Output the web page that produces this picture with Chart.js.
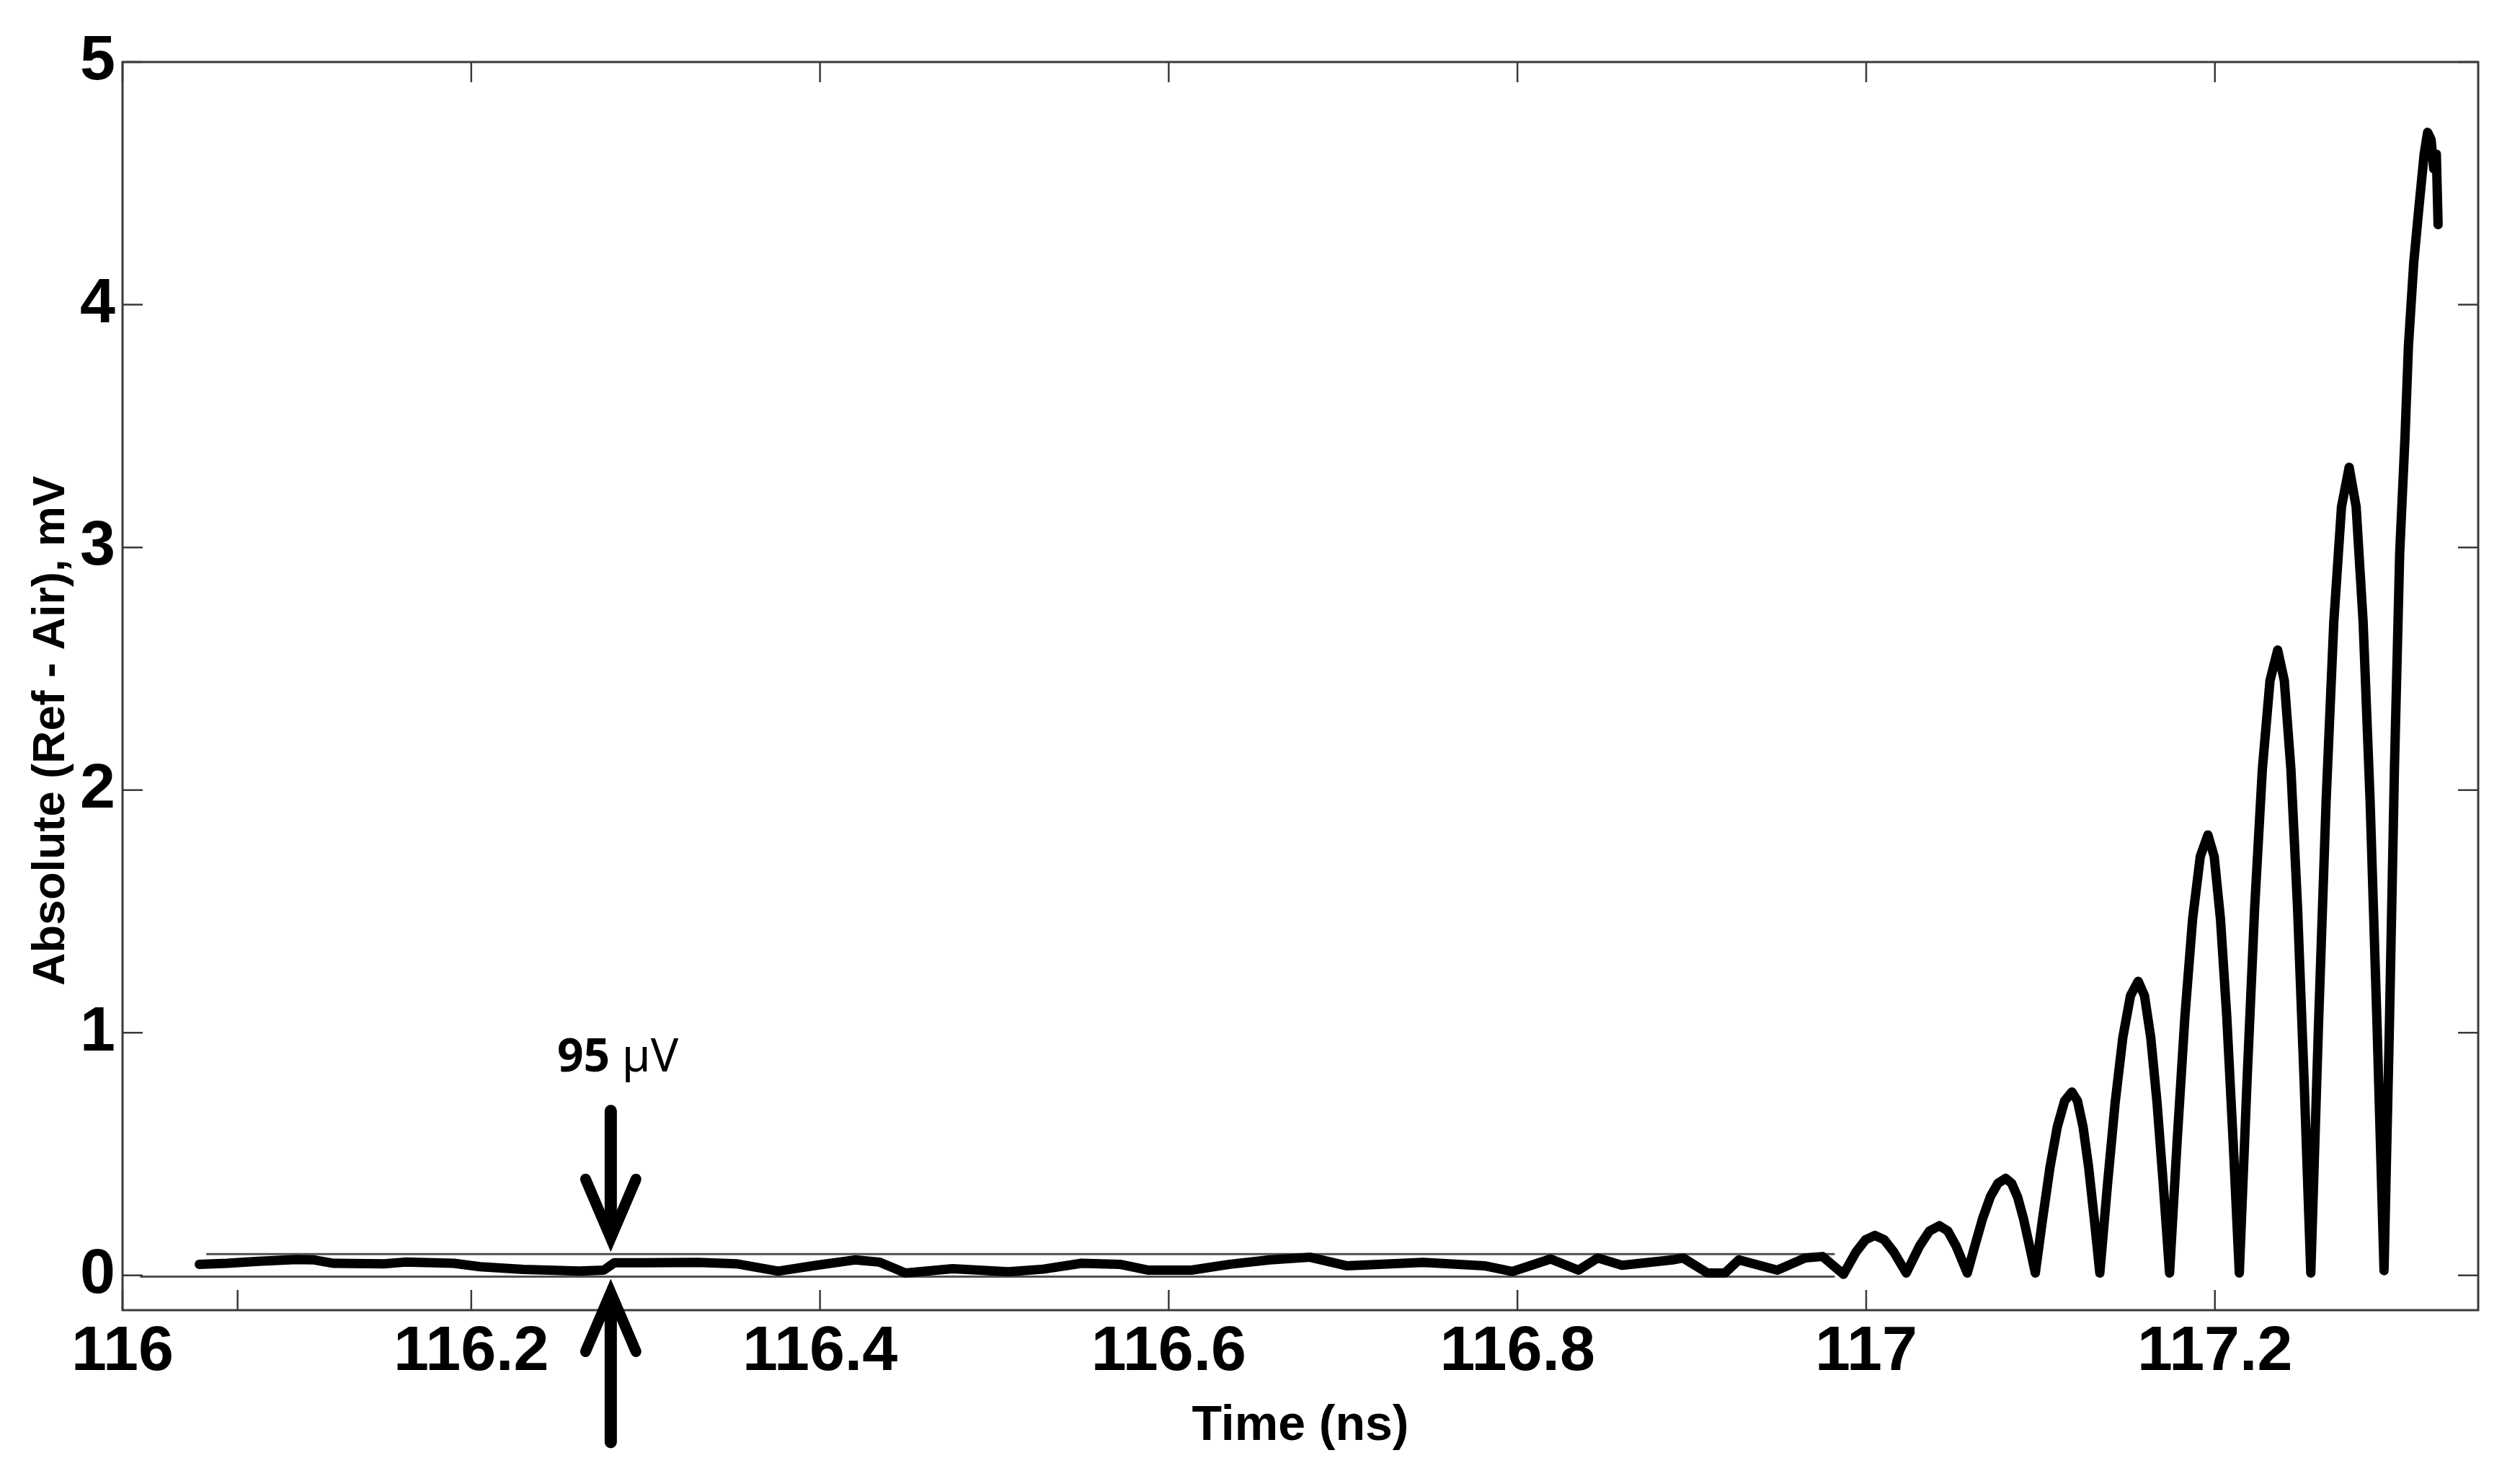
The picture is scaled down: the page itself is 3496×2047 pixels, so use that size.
<!DOCTYPE html>
<html>
<head>
<meta charset="utf-8">
<script src="https://cdn.jsdelivr.net/npm/chart.js@4.4.1/dist/chart.umd.min.js"></script>
<style>
  html, body { margin: 0; padding: 0; background: #fff; }
  #wrap { width: 3496px; height: 2047px; }
</style>
</head>
<body>
<div id="wrap"><canvas id="cvs" width="3496" height="2047"></canvas></div>
<script>
/* data */
const timeNs = [
  // noise floor
  116.044, 116.060, 116.078, 116.100, 116.110, 116.121, 116.150, 116.162, 116.190, 116.205,
  116.230, 116.262, 116.276, 116.282, 116.300, 116.330, 116.352, 116.376, 116.398, 116.420,
  116.434, 116.449, 116.476, 116.508, 116.528, 116.550, 116.572, 116.588, 116.613, 116.635,
  116.658, 116.681, 116.702, 116.746, 116.781, 116.797, 116.819, 116.835, 116.846, 116.860,
  116.889, 116.895, 116.909, 116.919, 116.927, 116.949, 116.965, 116.975, 116.987,
  // ringing
  116.9942, 116.9996, 117.005, 117.0104, 117.0158, 117.023,
  117.0306, 117.0363, 117.042, 117.0468, 117.0516, 117.058,
  117.0624, 117.0668, 117.0712, 117.0756, 117.080, 117.0834, 117.0868, 117.0902, 117.0936, 117.097,
  117.1012, 117.1054, 117.1096, 117.1138, 117.118, 117.1212, 117.1244, 117.1276, 117.1308, 117.134,
  117.1384, 117.1428, 117.1472, 117.1516, 117.156, 117.1596, 117.1632, 117.1668, 117.1704, 117.174,
  117.1784, 117.1828, 117.1872, 117.1916, 117.196, 117.1996, 117.2032, 117.2068, 117.2104, 117.214,
  117.2184, 117.2228, 117.2272, 117.2316, 117.236, 117.2398, 117.2436, 117.2474, 117.2512, 117.255,
  117.2594, 117.2638, 117.2682, 117.2726, 117.277, 117.281, 117.285, 117.289, 117.293, 117.297,
  117.300, 117.303, 117.306, 117.309, 117.311, 117.314, 117.317, 117.320, 117.322, 117.324,
  117.3255, 117.327, 117.328
];
const absMv = [
  0.046, 0.050, 0.058, 0.066, 0.064, 0.050, 0.048, 0.055, 0.050, 0.036,
  0.025, 0.018, 0.022, 0.052, 0.052, 0.054, 0.048, 0.018, 0.042, 0.064,
  0.055, 0.010, 0.028, 0.015, 0.026, 0.050, 0.046, 0.022, 0.022, 0.046,
  0.064, 0.075, 0.040, 0.054, 0.040, 0.016, 0.068, 0.022, 0.072, 0.042,
  0.064, 0.072, 0.010, 0.010, 0.064, 0.022, 0.072, 0.078, 0.005,
  0.097, 0.147, 0.165, 0.147, 0.097, 0.01,
  0.121, 0.183, 0.205, 0.183, 0.121, 0.01,
  0.124, 0.235, 0.324, 0.380, 0.40, 0.380, 0.324, 0.235, 0.124, 0.01,
  0.234, 0.445, 0.612, 0.719, 0.756, 0.719, 0.612, 0.445, 0.234, 0.01,
  0.375, 0.713, 0.981, 1.153, 1.212, 1.153, 0.981, 0.713, 0.375, 0.01,
  0.561, 1.067, 1.468, 1.726, 1.815, 1.726, 1.468, 1.067, 0.561, 0.01,
  0.796, 1.515, 2.085, 2.451, 2.577, 2.451, 2.085, 1.515, 0.796, 0.01,
  1.029, 1.958, 2.694, 3.167, 3.33, 3.167, 2.694, 1.958, 1.029, 0.02,
  1.00, 2.10, 2.98, 3.45, 3.83, 4.17, 4.40, 4.62, 4.71, 4.68,
  4.56, 4.62, 4.33
];

// the two thin lines that bracket the noise floor
const bandTopX = [116.048, 116.982];
const bandLowX = [116.010, 116.982];
const bandTop = 0.088;
const bandLow = -0.005;

const xRange = [116, 117.351];
const yRange = [-0.143, 5];
const xTicks = [116, 116.2, 116.4, 116.6, 116.8, 117, 117.2];
const xTickLabels = ['116', '116.2', '116.4', '116.6', '116.8', '117', '117.2'];
const xExtraTicks = [116.066];   // unlabelled tick on the bottom axis
const yTicks = [0, 1, 2, 3, 4, 5];
const yTickLabels = ['0', '1', '2', '3', '4', '5'];

const xTitle = 'Time (ns)';
const yTitle = 'Absolute (Ref - Air), mV';
const noteNum = '95';
const noteUnit = ' µV';
const noteAt = { x: 116.284, y: 0.84 };
const arrowX = 116.28;
const arrowDown = [0.678, bandTop];   // tail, tip
const arrowUp = [-0.687, bandLow];

/* style */
const FONT = "'Liberation Sans', Arial, sans-serif";
const TICK = 28;
const AXIS_COL = '#3a3a3a';

const pts = (xs, ys) => xs.map((x, i) => ({ x, y: ys[i] }));
const flat = (xs, v) => xs.map(x => ({ x, y: v }));

const frame = {
  id: 'frame',
  afterDraw(chart) {
    const { ctx, chartArea: a, scales: { x, y } } = chart;
    ctx.save();

    // box
    ctx.strokeStyle = AXIS_COL;
    ctx.lineWidth = 3;
    ctx.strokeRect(a.left, a.top, a.right - a.left, a.bottom - a.top);

    // inward ticks on all four sides
    ctx.lineWidth = 2.5;
    ctx.beginPath();
    xTicks.forEach(v => {
      const px = x.getPixelForValue(v);
      ctx.moveTo(px, a.bottom); ctx.lineTo(px, a.bottom - TICK);
      ctx.moveTo(px, a.top); ctx.lineTo(px, a.top + TICK);
    });
    xExtraTicks.forEach(v => {
      const px = x.getPixelForValue(v);
      ctx.moveTo(px, a.bottom); ctx.lineTo(px, a.bottom - TICK);
    });
    yTicks.forEach(v => {
      const py = y.getPixelForValue(v);
      ctx.moveTo(a.left, py); ctx.lineTo(a.left + TICK, py);
      ctx.moveTo(a.right, py); ctx.lineTo(a.right - TICK, py);
    });
    ctx.stroke();

    // axis titles
    ctx.fillStyle = '#000';
    ctx.textBaseline = 'alphabetic';
    ctx.textAlign = 'center';
    ctx.font = `bold 68px ${FONT}`;
    ctx.fillText(xTitle, (a.left + a.right) / 2, a.bottom + 180);

    ctx.save();
    ctx.translate(a.left - 81, (a.top + a.bottom) / 2 + 62);
    ctx.rotate(-Math.PI / 2);
    ctx.font = `bold 63px ${FONT}`;
    ctx.fillText(yTitle, 0, 0);
    ctx.restore();

    // 95 µV note
    const nx = x.getPixelForValue(noteAt.x);
    const ny = y.getPixelForValue(noteAt.y);
    ctx.textAlign = 'left';
    ctx.font = `bold 64px 'Noto Sans', sans-serif`;
    const w1 = ctx.measureText(noteNum).width;
    ctx.font = `64px 'Noto Sans', sans-serif`;
    const w2 = ctx.measureText(noteUnit).width;
    const sx = nx - (w1 + w2) / 2;
    ctx.font = `bold 64px 'Noto Sans', sans-serif`;
    ctx.fillText(noteNum, sx, ny);
    ctx.font = `64px 'Noto Sans', sans-serif`;
    ctx.fillText(noteUnit, sx + w1, ny);

    // arrows
    const ax = x.getPixelForValue(arrowX);
    const arrow = (tailV, tipV) => {
      const t0 = y.getPixelForValue(tailV);
      const t1 = y.getPixelForValue(tipV);
      const d = Math.sign(t1 - t0);
      ctx.strokeStyle = '#000';
      ctx.lineCap = 'round';
      ctx.lineWidth = 17;
      ctx.beginPath();
      ctx.moveTo(ax, t0); ctx.lineTo(ax, t1 - d * 30);
      ctx.stroke();
      ctx.lineJoin = 'miter';
      ctx.lineWidth = 15;
      ctx.beginPath();
      ctx.moveTo(ax - 35, t1 - d * 104);
      ctx.lineTo(ax, t1 - d * 22);
      ctx.lineTo(ax + 35, t1 - d * 104);
      ctx.stroke();
    };
    arrow(arrowDown[0], arrowDown[1]);
    arrow(arrowUp[0], arrowUp[1]);

    ctx.restore();
  }
};

new Chart(document.getElementById('cvs'), {
  type: 'line',
  data: {
    datasets: [
      { data: pts(timeNs, absMv), borderColor: '#000', borderWidth: 13,
        pointRadius: 0, tension: 0, borderJoinStyle: 'round', borderCapStyle: 'round' },
      { data: flat(bandTopX, bandTop), borderColor: '#505050', borderWidth: 3, pointRadius: 0 },
      { data: flat(bandLowX, bandLow), borderColor: '#505050', borderWidth: 3, pointRadius: 0 }
    ]
  },
  options: {
    responsive: false, animation: false, devicePixelRatio: 1,
    layout: { padding: { left: 0, right: 58, top: 86, bottom: 0 } },
    plugins: { legend: { display: false }, tooltip: { enabled: false } },
    scales: {
      x: {
        type: 'linear', min: xRange[0], max: xRange[1],
        afterBuildTicks: s => { s.ticks = xTicks.map(v => ({ value: v })); },
        afterFit: s => { s.height = 230; },
        grid: { display: false, drawTicks: false }, border: { display: false },
        ticks: { autoSkip: false, maxRotation: 0, padding: 6, color: '#000',
          font: { family: FONT, size: 88, weight: 'bold' },
          callback: (v, i) => xTickLabels[i] }
      },
      y: {
        type: 'linear', min: yRange[0], max: yRange[1],
        afterBuildTicks: s => { s.ticks = yTicks.map(v => ({ value: v })); },
        afterFit: s => { s.width = 170; },
        grid: { display: false, drawTicks: false }, border: { display: false },
        ticks: { padding: 10, color: '#000',
          font: { family: FONT, size: 88, weight: 'bold' },
          callback: (v, i) => yTickLabels[i] }
      }
    }
  },
  plugins: [frame]
});
</script>
</body>
</html>
